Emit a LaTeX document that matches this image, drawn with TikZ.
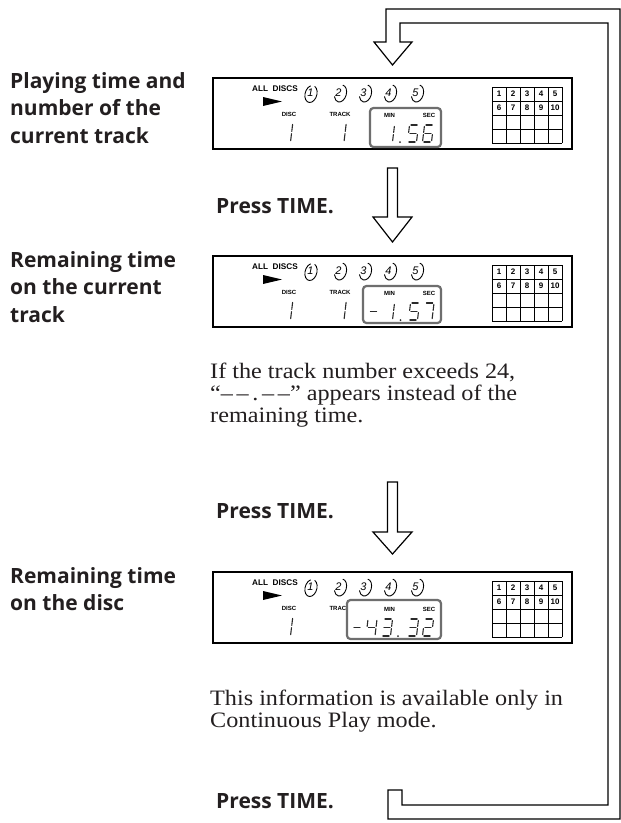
\documentclass[tikz,border=0pt]{standalone}
\usepackage{fontspec}
\setmainfont{Liberation Serif}
\newfontfamily\labfont{Open Sans}
\newfontfamily\bodyfont{Liberation Serif}[FakeStretch=1.1]
\newfontfamily\lcdfont{Liberation Sans}
\usetikzlibrary{calc}
\definecolor{txt}{HTML}{231F20}
\definecolor{boxgray}{HTML}{6E6E6E}
\definecolor{segc}{HTML}{2A2A2A}

\tikzset{
 lab/.style={anchor=base west, inner sep=0pt, text=txt, font=\labfont\bfseries\fontsize{21}{27.5}\selectfont},
 press/.style={anchor=base west, inner sep=0pt, text=txt, font=\labfont\bfseries\fontsize{21}{27.5}\selectfont},
 body/.style={anchor=base west, inner sep=0pt, text=txt, font=\bodyfont\fontsize{22}{22}\selectfont},
 frame/.style={draw=black, line width=2.2pt, minimum width=359pt, minimum height=71pt, anchor=north west, inner sep=0pt, outer sep=0pt},
 timebox/.style={draw=boxgray, fill=white, line width=2.2pt, rounded corners=3.5pt},
 segline/.style={draw=segc, line width=1.1pt, line cap=round},
 lcdsmall/.style={inner sep=0pt, text=black, font=\lcdfont\bfseries\fontsize{6}{6}\selectfont},
 lcdmid/.style={inner sep=0pt, text=black, font=\lcdfont\bfseries\fontsize{8.2}{9}\selectfont},
 gridnum/.style={inner sep=0pt, text=black, font=\lcdfont\bfseries\fontsize{8}{8}\selectfont},
 gridline/.style={draw=black, line width=0.9pt},
 discnum/.style={inner sep=0pt, text=black, font=\lcdfont\itshape\fontsize{11}{11}\selectfont},
 discarc/.style={draw=black, line width=0.9pt},
 arrowline/.style={draw=black, fill=white, line width=1.2pt, line join=miter},
}

% seven-segment pieces (local y negative = up)
\newcommand\segA{\draw[segline] (1.4,-\hh) -- (7.6,-\hh);}
\newcommand\segB{\draw[segline] (9,-\hh+1.4) -- (9,-\hh/2-1.1);}
\newcommand\segC{\draw[segline] (9,-\hh/2+1.1) -- (9,-1.4);}
\newcommand\segD{\draw[segline] (1.4,0) -- (7.6,0);}
\newcommand\segE{\draw[segline] (0,-1.4) -- (0,-\hh/2+1.1);}
\newcommand\segF{\draw[segline] (0,-\hh/2-1.1) -- (0,-\hh+1.4);}
\newcommand\segG{\draw[segline] (1.4,-\hh/2) -- (7.6,-\hh/2);}
\newcommand\dgt[4]{\begin{scope}[shift={(#1,#2)},xslant=0.12]\def\hh{#3}#4\end{scope}}
\newcommand\lcddot[2]{\fill[segc] (#1,#2) circle (1pt);}

\newcommand\lcdbase[2]{%
 \node[frame] (#1) at (213,#2) {};
 \node[lcdmid] (#1all) at (275,#2+11) {ALL\ \ DISCS};
 \fill[black] (263,#2+19) -- (282,#2+23.5) -- (263,#2+28) -- cycle;
 \foreach \n/\x in {1/312,2/340,3/365,4/390,5/417} {
   \node[discnum] (#1disc\n) at (\x-1.5,#2+15) {\n};
 }
 \begin{scope}[shift={(311,#2+16)},xslant=0.15]
  \draw[discarc] (0,0) ++(65:6pt and 8.5pt) arc[start angle=65, end angle=-255, x radius=6pt, y radius=8.5pt];
 \end{scope}
 \foreach \x in {340,365,390,417} {
  \begin{scope}[shift={(\x+0.5,#2+15.5)},xslant=0.15]
   \draw[discarc] (0,0) ++(80:6pt and 8.5pt) arc[start angle=80, end angle=-160, x radius=6pt, y radius=8.5pt];
  \end{scope}
 }
 \node[lcdsmall] (#1disclab) at (289,#2+36) {DISC};
 \node[lcdsmall] (#1tracklab) at (340,#2+36) {TRACK};
 \foreach \c in {0,...,5} \draw[gridline] (492+14*\c,#2+9) -- (492+14*\c,#2+65);
 \foreach \r in {0,...,4} \draw[gridline] (492,#2+9+14*\r) -- (562,#2+9+14*\r);
 \foreach \n/\m in {1/6,2/7,3/8,4/9,5/10} {
   \node[gridnum] (#1ga\n) at (485+14*\n,#2+16) {\n};
   \node[gridnum] (#1gb\n) at (485+14*\n,#2+30) {\m};
 }
}
\newcommand\lcdtime[5]{%
 \draw[timebox] (#3,#2+#4) rectangle (441,#2+#5);
 \node[lcdsmall] (#1min) at (389.5,#2+37) {MIN};
 \node[lcdsmall] (#1sec) at (429,#2+37) {SEC};
}
\newcommand\blockarrow[3]{%
 \draw[arrowline] (#1) -- ++(19.5,-#2) -- ++(-14.5,0) -- ++(0,-#3+#2) -- ++(-10,0) -- ++(0,#3-#2) -- ++(-14.5,0) -- cycle;}

\begin{document}
\begin{tikzpicture}[x=1pt,y=-1pt]
\useasboundingbox (0,0) rectangle (621,823);
\fill[white] (0,0) rectangle (621,823);

% ---------- display 1
\lcdbase{d1}{78}
\lcdtime{d1}{78}{370}{30}{69}
\dgt{281.5}{142}{19}{\segB\segC}
\dgt{335}{142}{19}{\segB\segC}
\dgt{383.5}{142}{17}{\segB\segC}
\lcddot{400}{142}
\dgt{407.5}{142}{17}{\segA\segF\segG\segC\segD}
\dgt{422.5}{142}{17}{\segA\segF\segG\segE\segC\segD}

% ---------- display 2
\lcdbase{d2}{256}
\lcdtime{d2}{256}{363}{30}{67}
\dgt{281.5}{320}{19}{\segB\segC}
\dgt{335}{320}{19}{\segB\segC}
\dgt{368}{320}{17}{\segG}
\dgt{383.5}{320}{17}{\segB\segC}
\lcddot{400.5}{320}
\dgt{408.5}{320}{17}{\segA\segF\segG\segC\segD}
\dgt{423}{320}{17}{\segA\segB\segC}

% ---------- display 3
\lcdbase{d3}{572}
\lcdtime{d3}{572}{347}{28}{67}
\dgt{281.5}{636}{19}{\segB\segC}
\dgt{351.5}{636}{17}{\segG}
\dgt{366}{636}{17}{\segF\segG\segB\segC}
\dgt{381.5}{636}{17}{\segA\segB\segG\segC\segD}
\lcddot{398}{636}
\dgt{407.5}{636}{17}{\segA\segB\segG\segC\segD}
\dgt{422.5}{636}{17}{\segA\segB\segG\segE\segD}

% ---------- texts
\node[lab] (l1) at (10,88) {\vtop{\hbox{Playing time and}\hbox{number of the}\hbox{current track}}};
\node[lab] (l2) at (10,267) {\vtop{\hbox{Remaining time}\hbox{on the current}\hbox{track}}};
\node[lab] (l3) at (10,583) {\vtop{\hbox{Remaining time}\hbox{on the disc}}};
\node[press] (p1) at (216,213) {Press TIME.};
\node[press] (p2) at (216,518) {Press TIME.};
\node[press] (p3) at (216,808) {Press TIME.};
\node[body] (b1) at (210,378) {\vtop{\hbox{If the track number exceeds 24,}\hbox{“–\,–\,.\,–\,–” appears instead of the}\hbox{remaining time.}}};
\node[body] (b2) at (210,705) {\vtop{\hbox{This information is available only in}\hbox{Continuous Play mode.}}};

% ---------- arrows
\coordinate (t1) at ($(d1.north)+(0,-13)$);
\coordinate (t2) at ($(d2.north)+(0,-14)$);
\coordinate (t3) at ($(d3.north)+(0,-18)$);
\draw[arrowline] (t1) -- ++(19.5,-23) -- ++(-12,0) -- (400,23) -- (608,23) -- (608,805) -- (402,805) -- (402,790)
  -- (388,790) -- (388,819) -- (620,819) -- (620,9) -- (386,9) -- (386,42) -- (374,42) -- cycle;
\blockarrow{t2}{25}{74}
\blockarrow{t3}{22}{72}
\end{tikzpicture}
\end{document}
